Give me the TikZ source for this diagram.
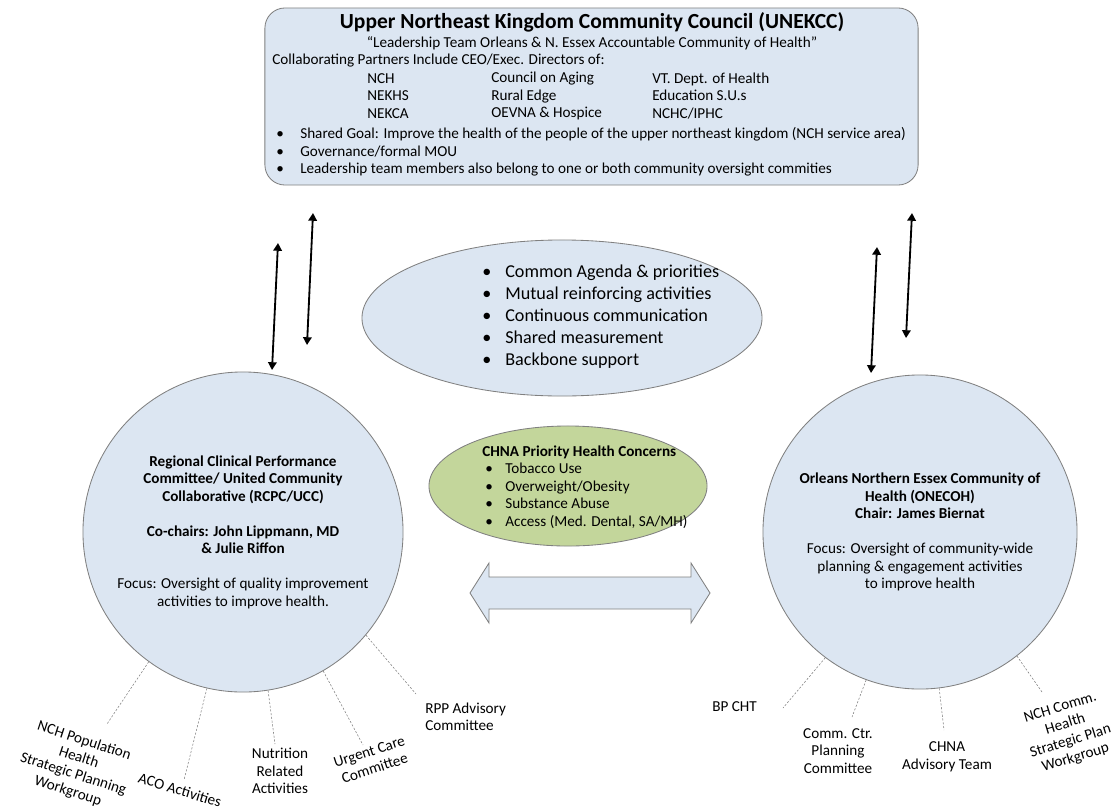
\documentclass[tikz,border=0pt]{standalone}
\usepackage{fontspec}
\setmainfont{Carlito}
\usetikzlibrary{arrows.meta,shapes.geometric}
\definecolor{panelfill}{RGB}{220,230,242}
\definecolor{panelline}{RGB}{128,128,128}
\definecolor{concernfill}{RGB}{195,214,155}
\newcommand{\bul}[1]{\makebox[#1][l]{\textbullet}}

\begin{document}
\begin{tikzpicture}[x=0.025cm, y=-0.025cm,
    body/.style={font=\fontsize{10.8}{12.45}\selectfont, inner sep=0pt},
    panel/.style={draw=panelline, fill=panelfill, line width=0.6pt},
    link/.style={line width=1.3pt,
      {Triangle[width=6pt,length=5.5pt]}-{Triangle[width=6pt,length=5.5pt]}},
    spoke/.style={draw=gray, line width=0.4pt, dash pattern=on 1.5pt off 1.2pt}]
  \useasboundingbox (0,0) rectangle (1115,809);

  % Council box on top
  \node[panel, rounded corners=0.5cm, minimum width=16.325cm,
        minimum height=4.425cm] (unekcc) at (591.5,96.5) {};
  \node[body, font=\fontsize{15.3}{17}\selectfont\bfseries] (title) at (592,22)
    {Upper Northeast Kingdom Community Council (UNEKCC)};
  \node[body] (motto) at (592,43)
    {``Leadership Team Orleans \& N. Essex Accountable Community of Health''};
  \node[body, anchor=west] (partners) at (272,61)
    {Collaborating Partners Include CEO/Exec. Directors of:};
  \node[body, anchor=west, align=left] (colA) at (367,96) {NCH\\NEKHS\\NEKCA};
  \node[body, anchor=west, align=left] (colB) at (491,96)
    {Council on Aging\\Rural Edge\\OEVNA \& Hospice};
  \node[body, anchor=west, align=left] (colC) at (652,96)
    {VT. Dept. of Health\\Education S.U.s\\NCHC/IPHC};
  \node[body, anchor=west, align=left] (goals) at (276,152)
    {\bul{0.6cm}Shared Goal: Improve the health of the people of the upper northeast kingdom (NCH service area)\\
     \bul{0.6cm}Governance/formal MOU\\
     \bul{0.6cm}Leadership team members also belong to one or both community oversight commities};

  % Collective impact ellipse
  \node[ellipse, panel, minimum width=10cm, minimum height=3.9cm] (impact) at (562,318) {};
  \node[body, font=\fontsize{12.9}{15.65}\selectfont, anchor=west, align=left] (pillars) at (482,317)
    {\bul{0.575cm}Common Agenda \& priorities\\
     \bul{0.575cm}Mutual reinforcing activities\\
     \bul{0.575cm}Continuous communication\\
     \bul{0.575cm}Shared measurement\\
     \bul{0.575cm}Backbone support};

  % CHNA concerns
  \node[ellipse, draw=panelline, fill=concernfill, line width=0.6pt,
        minimum width=6.95cm, minimum height=3cm] (chna) at (568,486) {};
  \node[body, anchor=west, align=left] (concerns) at (482,487)
    {\textbf{CHNA Priority Health Concerns}\\
     \hspace*{0.075cm}\bul{0.5cm}Tobacco Use\\
     \hspace*{0.075cm}\bul{0.5cm}Overweight/Obesity\\
     \hspace*{0.075cm}\bul{0.5cm}Substance Abuse\\
     \hspace*{0.075cm}\bul{0.5cm}Access (Med. Dental, SA/MH)};

  % Two oversight committees
  \node[circle, panel, minimum size=8cm] (rcpc) at (243,532) {};
  \node[body, align=center] (rcpctext) at (rcpc.center)
    {\textbf{Regional Clinical Performance}\\\textbf{Committee/ United Community}\\
     \textbf{Collaborative (RCPC/UCC)}\\[12.45pt]
     \textbf{Co-chairs: John Lippmann, MD}\\\textbf{\& Julie Riffon}\\[12.45pt]
     Focus: Oversight of quality improvement\\activities to improve health.};
  \node[circle, panel, minimum size=7.85cm] (onecoh) at (920,532) {};
  \node[body, align=center] (onecohtext) at (onecoh.center)
    {\textbf{Orleans Northern Essex Community of}\\\textbf{Health (ONECOH)}\\
     \textbf{Chair: James Biernat}\\[12.45pt]
     Focus: Oversight of community-wide\\planning \& engagement activities\\to improve health};

  % Block arrow between the circles
  \draw[panel] (470,593) -- (489,563) -- (489,577) -- (691,577) -- (691,563)
    -- (710,593) -- (691,623) -- (691,609) -- (489,609) -- (489,623) -- cycle;

  % Links to the council
  \coordinate (lA1) at (278,243); \coordinate (lA2) at (272,370);
  \coordinate (lB1) at (313,213); \coordinate (lB2) at (307,345);
  \coordinate (rA1) at (877,247); \coordinate (rA2) at (871,373);
  \coordinate (rB1) at (912,213); \coordinate (rB2) at (906,338);
  \draw[link] (lA1) -- (lA2);
  \draw[link] (lB1) -- (lB2);
  \draw[link] (rA1) -- (rA2);
  \draw[link] (rB1) -- (rB2);

  % Workgroups of RCPC/UCC
  \node[body, align=center, rotate=-18] (popwg) at (76,766)
    {NCH Population\\Health\\Strategic Planning\\Workgroup};
  \node[body, rotate=-17] (aco) at (180,790) {ACO Activities};
  \node[body, align=center] (nutri) at (280,771) {Nutrition\\Related\\Activities};
  \node[body, align=center, rotate=18] (urgent) at (372,760) {Urgent Care\\Committee};
  \node[body, anchor=west, align=left] (rpp) at (425,717) {RPP Advisory\\Committee};
  \foreach \ang/\sx/\sy [count=\i] in {-126.5/107/724, -103.9/184/780, -81.8/275/744,
                                       -60.5/363/745, -40.2/416/694}{
    \coordinate (ls\i) at (\sx,\sy);
    \draw[spoke] (rcpc.\ang) -- (ls\i);
  }

  % Workgroups of ONECOH
  \node[body, anchor=west] (bpcht) at (712,707) {BP CHT};
  \node[body, align=center] (commctr) at (838,751) {Comm. Ctr.\\Planning\\Committee};
  \node[body, align=center] (chnateam) at (947,757) {CHNA\\Advisory Team};
  \node[body, align=center, rotate=17] (strat) at (1068,733)
    {NCH Comm.\\Health\\Strategic Plan\\Workgroup};
  \foreach \ang/\sx/\sy [count=\i] in {-127.6/783/708, -110/852/717,
                                       -83/944/730, -52/1042/692}{
    \coordinate (rs\i) at (\sx,\sy);
    \draw[spoke] (onecoh.\ang) -- (rs\i);
  }
\end{tikzpicture}
\end{document}
